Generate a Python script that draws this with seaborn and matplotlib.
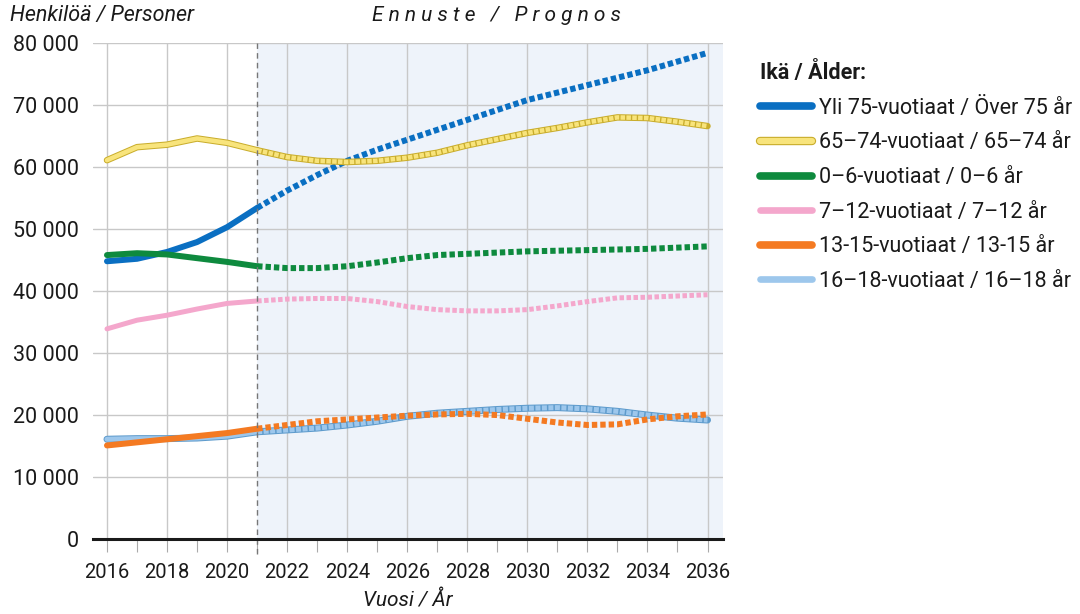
import numpy as np
import pandas as pd
import seaborn as sns
import matplotlib.pyplot as plt
from matplotlib.lines import Line2D
from matplotlib.ticker import FuncFormatter, MultipleLocator
import matplotlib.patheffects as pe

sns.set_theme(style="white")
plt.rcParams["font.family"] = ["Roboto", "DejaVu Sans"]
plt.rcParams["text.color"] = "#1a1a1a"
plt.rcParams["xtick.color"] = "#1a1a1a"
plt.rcParams["ytick.color"] = "#1a1a1a"
plt.rcParams["axes.labelcolor"] = "#1a1a1a"

years = list(range(2016, 2037))
# historical 2016-2021, forecast 2021-2036 (thousands)
yli75 = [44.8, 45.2, 46.3, 47.9, 50.3, 53.4, 56.2, 58.7, 61.0, 62.8, 64.4, 66.0, 67.6,
         69.2, 70.8, 72.0, 73.2, 74.4, 75.6, 77.0, 78.4]
age65_74 = [61.1, 63.2, 63.6, 64.6, 63.9, 62.7, 61.6, 61.0, 60.8, 61.0, 61.5, 62.3, 63.5,
            64.5, 65.5, 66.3, 67.2, 68.0, 67.9, 67.3, 66.6]
age0_6 = [45.8, 46.1, 45.9, 45.3, 44.7, 44.0, 43.7, 43.7, 44.0, 44.6, 45.3, 45.8, 46.0,
          46.2, 46.4, 46.5, 46.6, 46.7, 46.8, 47.0, 47.2]
age7_12 = [33.9, 35.3, 36.1, 37.1, 38.0, 38.4, 38.7, 38.8, 38.8, 38.3, 37.5, 37.0, 36.8,
           36.8, 37.0, 37.6, 38.3, 38.9, 39.0, 39.2, 39.4]
age13_15 = [15.1, 15.6, 16.1, 16.6, 17.1, 17.8, 18.4, 19.0, 19.3, 19.6, 19.9, 20.1, 20.2,
            20.0, 19.4, 18.8, 18.4, 18.5, 19.3, 19.8, 20.1]
age16_18 = [16.1, 16.2, 16.2, 16.3, 16.6, 17.3, 17.6, 17.9, 18.4, 19.0, 19.8, 20.3, 20.6,
            20.9, 21.1, 21.2, 21.0, 20.6, 20.0, 19.5, 19.2]

labels = ["Yli 75-vuotiaat / Över 75 år", "65–74-vuotiaat / 65–74 år",
          "0–6-vuotiaat / 0–6 år", "7–12-vuotiaat / 7–12 år",
          "13-15-vuotiaat / 13-15 år", "16–18-vuotiaat / 16–18 år"]
colors = ["#0a6fc2", "#f8e47c", "#0e8a3e", "#f4a7cc", "#f47a22", "#9dc7ec"]
edges = [None, "#c9ad2c", None, None, None, "#5e9bcc"]
widths = [6, 4.5, 6, 5, 6, 5]
series = [yli75, age65_74, age0_6, age7_12, age13_15, age16_18]
split_year = 2021

fig = plt.figure(figsize=(10.8, 6.14), dpi=100)
ax = fig.add_axes([0.086, 0.122, 0.583, 0.808])

ax.axvspan(split_year, 2036.5, color="#eef3fa", zorder=0, lw=0)

px = 72 / 100  # points per pixel
order = [3, 0, 2, 1, 5, 4]
for i in order:
    df = pd.DataFrame({"year": years, "value": np.array(series[i]) * 1000})
    hist = df[df["year"] <= split_year]
    fc = df[df["year"] >= split_year]
    lw = widths[i] * px
    z = 3 + order.index(i)
    if edges[i]:
        for part in (hist, fc):
            sns.lineplot(data=part, x="year", y="value", ax=ax, color=edges[i],
                         lw=lw + 2 * px, solid_capstyle="round", zorder=z)
        sns.lineplot(data=hist, x="year", y="value", ax=ax, color=colors[i],
                     lw=lw, solid_capstyle="round", zorder=z)
        sns.lineplot(data=fc, x="year", y="value", ax=ax, color=colors[i],
                     lw=lw, linestyle=(0, (1.0, 0.3)), dash_capstyle="butt", zorder=z)
    else:
        sns.lineplot(data=hist, x="year", y="value", ax=ax, color=colors[i],
                     lw=lw, solid_capstyle="round", zorder=z)
        sns.lineplot(data=fc, x="year", y="value", ax=ax, color=colors[i],
                     lw=lw, linestyle=(0, (0.9, 0.5)), dash_capstyle="butt", zorder=z)

ax.set_xlim(2015.53, 2036.5)
ax.set_ylim(0, 80000)
ax.xaxis.set_major_locator(MultipleLocator(2))
ax.xaxis.set_minor_locator(MultipleLocator(1))
ax.yaxis.set_major_locator(MultipleLocator(10000))
ax.yaxis.set_major_formatter(FuncFormatter(lambda v, p: f"{int(v):,}".replace(",", " ")))
ax.grid(True, which="major", color="#c8c8c8", lw=1)
ax.set_axisbelow(True)
for s in ["top", "right", "left"]:
    ax.spines[s].set_visible(False)
ax.spines["bottom"].set_color("#1a1a1a")
ax.spines["bottom"].set_linewidth(2.2)
ax.spines["bottom"].set_zorder(20)
ax.tick_params(axis="x", which="both", direction="out", length=9, width=0.8,
               color="#aaaaaa", labelsize=14.5, pad=8, bottom=True,
               labelcolor="#1a1a1a")
ax.tick_params(axis="y", length=0, labelsize=15.5, pad=10)
ax.axvline(split_year, ymin=-0.03, ymax=1, color="#777777", lw=1, ls=(0, (4, 3)),
           zorder=15, clip_on=False)

ax.set_xlabel("Vuosi / År", fontsize=15, style="italic", labelpad=6)
ax.set_ylabel("")

fig.text(0.009, 0.975, "Henkilöä / Personer", fontsize=15.5, style="italic",
         ha="left", va="center")
fig.text(0.46, 0.975, "E n n u s t e   /   P r o g n o s", fontsize=15, style="italic",
         ha="center", va="center")

handles = []
for i in range(6):
    h = Line2D([], [], color=colors[i], lw=widths[i] * px + 1.2, solid_capstyle="round")
    if i == 1:
        h.set_path_effects([pe.Stroke(linewidth=widths[i] * px + 2.8, foreground=edges[i]),
                            pe.Normal()])
    handles.append(h)
leg = fig.legend(handles, labels, loc="upper left", bbox_to_anchor=(0.686, 0.93),
                 frameon=False, fontsize=15.5, title="Ikä / Ålder:",
                 title_fontproperties={"weight": "bold", "size": 15.5},
                 handlelength=2.4, handletextpad=0.35, labelspacing=0.63,
                 alignment="left")

fig.savefig("out.png", dpi=100)
